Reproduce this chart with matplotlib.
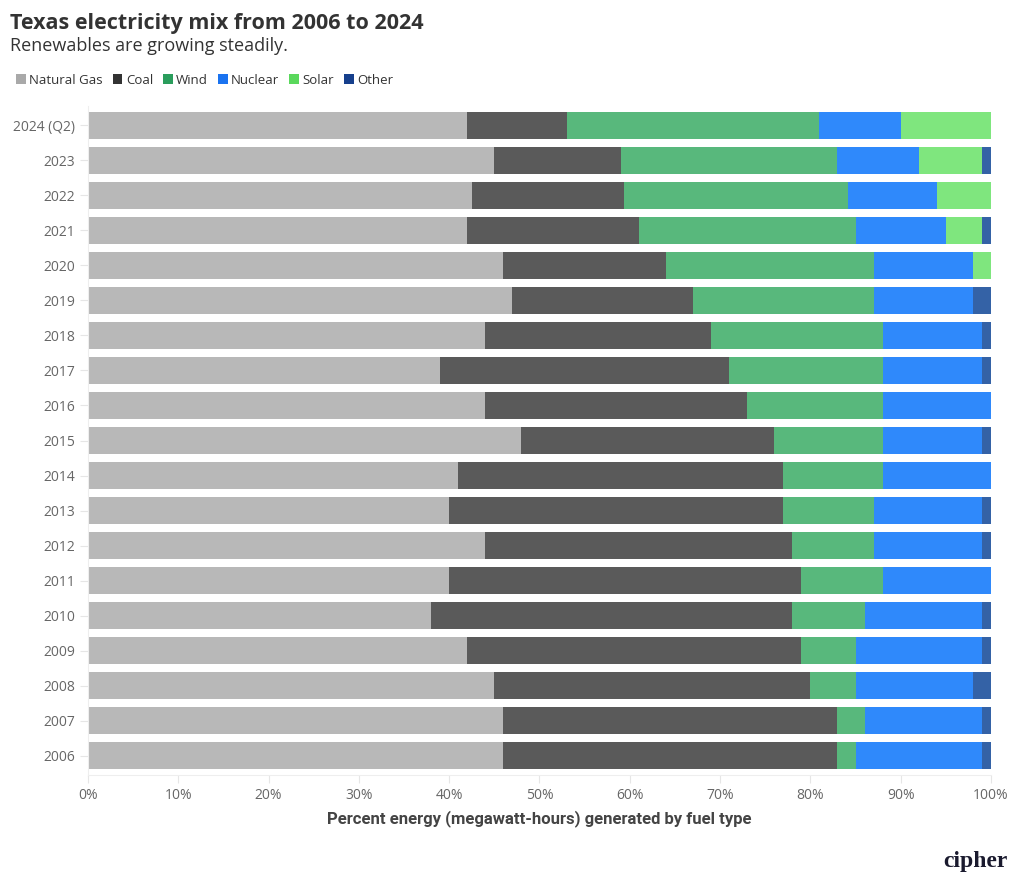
import matplotlib
matplotlib.use("Agg")
import matplotlib.pyplot as plt
from matplotlib.patches import Patch
import numpy as np

plt.rcParams['font.family'] = ['Open Sans', 'DejaVu Sans']

years = ["2024 (Q2)", "2023", "2022", "2021", "2020", "2019", "2018", "2017", "2016",
         "2015", "2014", "2013", "2012", "2011", "2010", "2009", "2008", "2007", "2006"]

natural_gas = [42, 45, 42.5, 42, 46, 47, 44, 39, 44, 48, 41, 40, 44, 40, 38, 42, 45, 46, 46]
coal = [11, 14, 16.9, 19, 18, 20, 25, 32, 29, 28, 36, 37, 34, 39, 40, 37, 35, 37, 37]
wind = [28, 24, 24.8, 24, 23, 20, 19, 17, 15, 12, 11, 10, 9, 9, 8, 6, 5, 3, 2]
nuclear = [9, 9, 9.8, 10, 11, 11, 11, 11, 12, 11, 12, 12, 12, 12, 13, 14, 13, 13, 14]
solar = [10, 7, 6, 4, 2, 0, 0, 0, 0, 0, 0, 0, 0, 0, 0, 0, 0, 0, 0]
other = [0, 1, 0, 1, 0, 2, 1, 1, 0, 1, 0, 1, 1, 0, 1, 1, 2, 1, 1]

series = [("Natural Gas", natural_gas), ("Coal", coal), ("Wind", wind),
          ("Nuclear", nuclear), ("Solar", solar), ("Other", other)]
bar_colors = ["#b8b8b8", "#5a5a5a", "#58b87c", "#2f89fb", "#7fe67e", "#3462a6"]
legend_colors = ["#a9a9a9", "#333333", "#2a9d5c", "#1a73f0", "#5ad85c", "#163f8c"]

fig = plt.figure(figsize=(10.2, 8.9), dpi=100)
ax = fig.add_axes([88 / 1020, 1 - 775 / 890, 903 / 1020, (775 - 106) / 890])

y = np.arange(len(years))
left = np.zeros(len(years))
for (name, vals), c in zip(series, bar_colors):
    vals = np.array(vals, dtype=float)
    ax.barh(y, vals, left=left, height=0.78, color=c, edgecolor="none")
    left += vals

ax.set_ylim(len(years) - 0.5 + 0.05, -0.5 - 0.05)
ax.set_xlim(0, 100)
ax.set_yticks(y)
ax.set_yticklabels(years)
ax.set_xticks(np.arange(0, 101, 10))
ax.set_xticklabels([f"{v}%" for v in range(0, 101, 10)])
ax.tick_params(axis="both", colors="#e6e6e6", labelcolor="#666666", labelsize=10,
               length=6, width=0.8)
for s in ["top", "right"]:
    ax.spines[s].set_visible(False)
ax.spines["left"].set_color("#eeeeee")
ax.spines["bottom"].set_color("#eeeeee")

ax.set_xlabel("Percent energy (megawatt-hours) generated by fuel type",
              family=["Roboto", "DejaVu Sans"], fontweight="bold",
              fontsize=12, color="#444444", labelpad=5)

fig.text(10 / 1020, 1 - 24 / 890, "Texas electricity mix from 2006 to 2024",
         fontsize=15.5, fontweight="bold", color="#333333", va="center")
fig.text(10 / 1020, 1 - 46 / 890, "Renewables are growing steadily.",
         fontsize=13, color="#333333", va="center")

handles = [Patch(facecolor=c, edgecolor="none", label=n)
           for (n, _), c in zip(series, legend_colors)]
fig.legend(handles=handles, loc="center left", bbox_to_anchor=(4 / 1020, 1 - 80 / 890),
           ncol=6, frameon=False, fontsize=9.5, handlelength=0.75, handleheight=0.75,
           handletextpad=0.25, columnspacing=0.75, labelcolor="#333333")

fig.text(1008 / 1020, 1 - 862 / 890, "cipher", family=["Liberation Serif", "DejaVu Serif"],
         fontsize=17, color="#1a1a2e", ha="right", va="center", fontweight="bold")

fig.savefig("out.png", dpi=100)
